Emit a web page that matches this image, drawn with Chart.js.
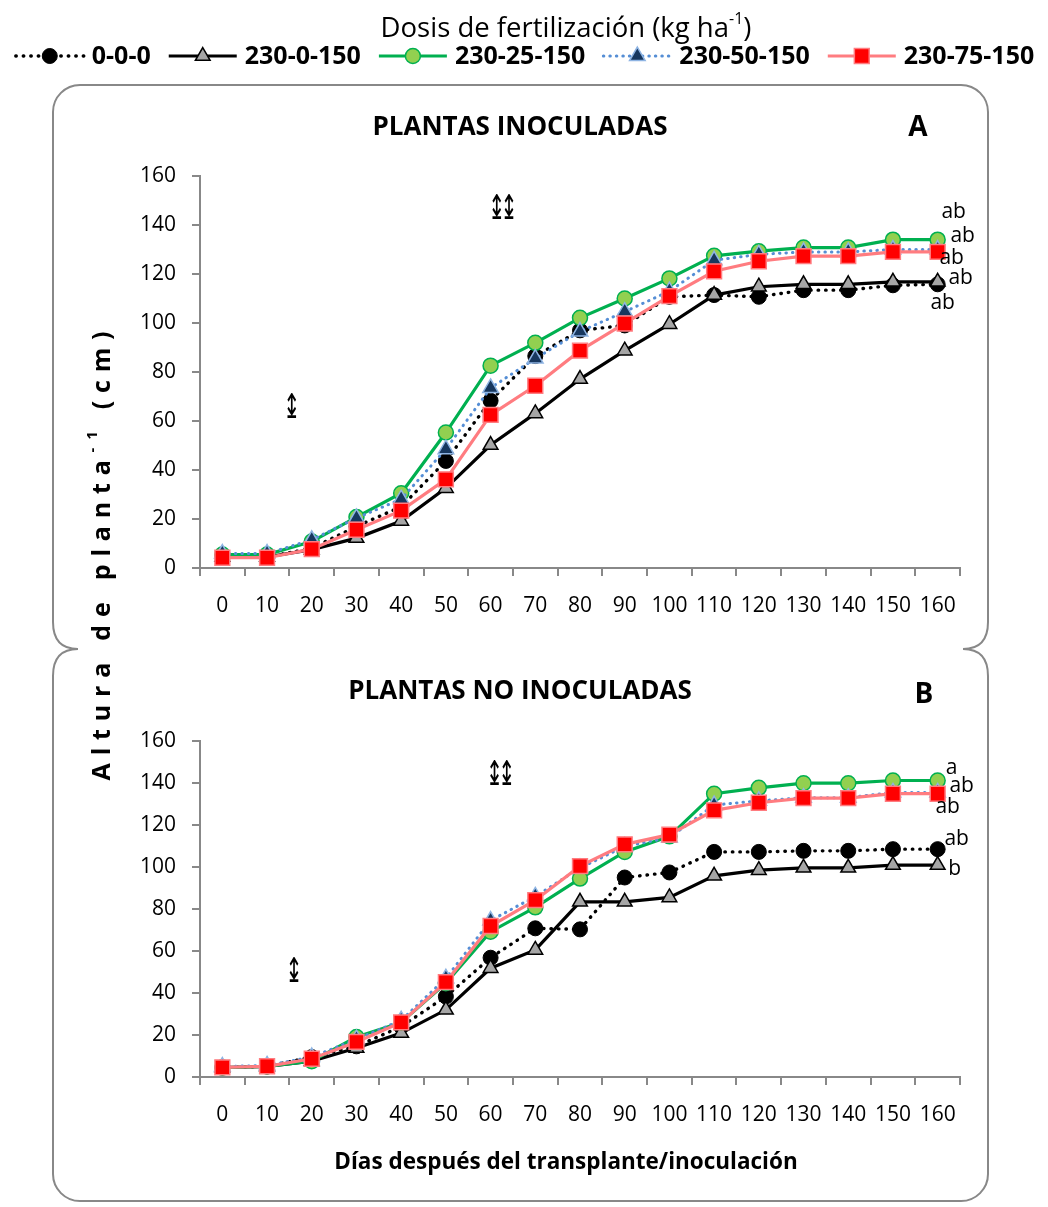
<!DOCTYPE html>
<html>
<head>
<meta charset="utf-8">
<title>Altura de planta</title>
<script src="https://cdn.jsdelivr.net/npm/chart.js@4.4.0/dist/chart.umd.min.js"></script>
<style>
  html, body { margin: 0; padding: 0; background: #ffffff; }
  #wrap { position: relative; width: 1048px; height: 1207px; }
  .layer { position: absolute; left: 0; top: 0; width: 1048px; height: 1207px; }
</style>
</head>
<body>
<div id="wrap">
  <div class="layer"><canvas id="chartA"></canvas></div>
  <div class="layer"><canvas id="chartB"></canvas></div>
</div>
<script>
// ---- data ----
const days = ['0', '10', '20', '30', '40', '50', '60', '70', '80', '90', '100', '110', '120', '130', '140', '150', '160'];
const treatments = ['0-0-0', '230-0-150', '230-25-150', '230-50-150', '230-75-150'];

// A: plantas inoculadas (cm)
const inoc_0_0_0      = [4.5, 4.5, 8.0, 17.0, 25.0, 43.7, 68.3, 86.5, 97.0, 99.0, 110.7, 111.4, 110.7, 113.4, 113.4, 115.4, 115.8];
const inoc_230_0_150  = [4.5, 4.5, 7.5, 12.2, 19.2, 32.6, 50.2, 63.1, 77.1, 88.7, 99.5, 111.4, 114.8, 115.8, 115.8, 116.8, 116.8];
const inoc_230_25_150 = [5.5, 5.5, 10.8, 20.8, 30.5, 55.3, 82.6, 91.9, 102.1, 110.0, 118.2, 127.4, 129.3, 130.8, 130.8, 134.0, 134.0];
const inoc_230_50_150 = [5.9, 5.9, 11.5, 20.4, 28.1, 48.5, 73.5, 85.5, 96.5, 104.6, 113.0, 125.6, 128.0, 129.0, 129.0, 130.0, 130.0];
const inoc_230_75_150 = [4.2, 4.2, 7.7, 15.6, 23.4, 36.2, 62.5, 74.4, 88.7, 99.8, 111.0, 121.1, 125.2, 127.3, 127.3, 129.0, 129.0];

// B: plantas no inoculadas (cm)
const noinoc_0_0_0      = [4.5, 5.0, 9.5, 14.6, 24.0, 38.3, 56.8, 70.8, 70.3, 95.0, 97.4, 107.2, 107.2, 107.7, 107.7, 108.5, 108.5];
const noinoc_230_0_150  = [4.5, 5.0, 7.5, 13.8, 20.9, 32.0, 51.8, 60.5, 83.4, 83.4, 85.5, 95.8, 98.5, 99.6, 99.6, 100.9, 100.9];
const noinoc_230_25_150 = [4.5, 5.0, 7.5, 19.0, 26.0, 44.7, 69.2, 80.8, 94.5, 107.2, 114.6, 134.9, 137.7, 139.9, 139.9, 141.2, 141.2];
const noinoc_230_50_150 = [5.0, 5.5, 9.5, 18.0, 27.0, 47.0, 74.5, 86.0, 99.5, 109.8, 114.0, 129.5, 131.5, 133.0, 133.0, 135.5, 135.5];
const noinoc_230_75_150 = [4.6, 5.1, 8.7, 16.7, 26.0, 45.2, 71.9, 84.2, 100.4, 110.8, 115.4, 127.0, 130.6, 132.8, 132.8, 134.9, 134.9];

// letters of mean separation at the last date, one per treatment
const lettersA = ['ab', 'ab', 'ab', 'ab', 'ab'];
const lettersB = ['ab', 'b', 'a', 'ab', 'ab'];

// y-axis tick values
const yTicks = [0, 20, 40, 60, 80, 100, 120, 140, 160];

// ---- styles ----
const AXIS_GRAY = '#888888';
const FONT = "'Open Sans', 'DejaVu Sans', sans-serif";
Chart.defaults.font.family = FONT;
Chart.defaults.color = '#000000';

const seriesStyle = [
  { borderColor: '#000000', borderWidth: 3.4, borderDash: [0.5, 7], borderCapStyle: 'round',
    pointStyle: 'circle', pointRadius: 7.5, pointBackgroundColor: '#000000', pointBorderColor: '#000000', pointBorderWidth: 1, order: 5 },
  { borderColor: '#000000', borderWidth: 3.2, borderDash: [],
    pointStyle: 'triangle', pointRadius: 8.5, pointBackgroundColor: '#a6a6a6', pointBorderColor: '#000000', pointBorderWidth: 1.5, order: 4 },
  { borderColor: '#00b050', borderWidth: 3.2, borderDash: [],
    pointStyle: 'circle', pointRadius: 7.5, pointBackgroundColor: '#92d050', pointBorderColor: '#00b050', pointBorderWidth: 1.5, order: 3 },
  { borderColor: '#558ed5', borderWidth: 3, borderDash: [0.5, 6], borderCapStyle: 'round',
    pointStyle: 'triangle', pointRadius: 9, pointBackgroundColor: '#17375e', pointBorderColor: '#8eb4e3', pointBorderWidth: 1.5, order: 2 },
  { borderColor: '#ff7c80', borderWidth: 3.2, borderDash: [],
    pointStyle: 'rect', pointRadius: 10.5, pointBackgroundColor: '#ff0000', pointBorderColor: '#ff7c80', pointBorderWidth: 1.5, order: 1 }
];

// offsets (px) of the letter labels from the last point of each series
const letterOffsetsA = [[5, 19], [23, -4], [16, -28], [25, -13], [14, 6]];
const letterOffsetsB = [[19, -10], [17, 4], [14, -12], [24, -6], [10, 13]];

// LSD markers drawn in data space
const lsdMarksA = [{ x: 1.5, y: 65, text: '\u21A8' }, { x: 6.22, y: 146, text: '\u21A8\u21A8' }];
const lsdMarksB = [{ x: 1.55, y: 49.6, text: '\u21A8' }, { x: 6.17, y: 143.2, text: '\u21A8\u21A8' }];

function buildDatasets(seriesList) {
  return seriesList.map((values, i) => Object.assign({
    label: treatments[i],
    data: values,
    tension: 0,
    fill: false,
    pointHoverRadius: seriesStyle[i].pointRadius
  }, seriesStyle[i]));
}

function buildOptions(padTop, padBottom) {
  return {
    responsive: true,
    maintainAspectRatio: false,
    animation: false,
    devicePixelRatio: 1,
    events: [],
    layout: { padding: { left: 0, right: 88, top: padTop, bottom: padBottom } },
    plugins: { legend: { display: false }, tooltip: { enabled: false }, title: { display: false } },
    scales: {
      x: {
        type: 'category',
        offset: true,
        grid: { display: true, offset: true, drawOnChartArea: false, drawTicks: true, tickLength: 8, color: AXIS_GRAY, lineWidth: 2 },
        border: { display: true, color: AXIS_GRAY, width: 2 },
        ticks: { color: '#000000', font: { size: 21 }, padding: 17, maxRotation: 0, autoSkip: false },
        afterFit: (s) => { s.height = 60; }
      },
      y: {
        min: 0,
        max: 160,
        afterBuildTicks: (s) => { s.ticks = yTicks.map(v => ({ value: v })); },
        grid: { display: true, drawOnChartArea: false, drawTicks: true, tickLength: 8, color: AXIS_GRAY, lineWidth: 2 },
        border: { display: true, color: AXIS_GRAY, width: 2 },
        ticks: { color: '#000000', font: { size: 21 }, padding: 16 },
        afterFit: (s) => { s.width = 200; }
      }
    }
  };
}

// letters after the last point, LSD markers and panel headings
function panelAnnotations(letters, offsets, marks, title, tag, titleY, tagPos) {
  return {
    id: 'panelAnnotations',
    afterDatasetsDraw(chart) {
      const ctx = chart.ctx;
      const xs = chart.scales.x, ys = chart.scales.y;
      ctx.save();
      ctx.fillStyle = '#000000';
      ctx.textAlign = 'center';
      ctx.textBaseline = 'middle';
      ctx.font = '21px ' + FONT;
      chart.data.datasets.forEach((ds, i) => {
        const last = ds.data.length - 1;
        const px = xs.getPixelForValue(last);
        const py = ys.getPixelForValue(ds.data[last]);
        ctx.fillText(letters[i], px + offsets[i][0], py + offsets[i][1]);
      });
      // narrow up-down arrows with base
      marks.forEach(m => {
        ctx.save();
        ctx.translate(xs.getPixelForValue(m.x), ys.getPixelForValue(m.y));
        ctx.scale(0.6, 1);
        ctx.font = '34px "DejaVu Sans", sans-serif';
        ctx.letterSpacing = '-8px';
        ctx.fillText(m.text, 0, 0);
        ctx.restore();
      });
      ctx.font = 'bold 26px ' + FONT;
      ctx.fillText(title, 520, titleY);
      ctx.font = 'bold 28px ' + FONT;
      ctx.fillText(tag, tagPos[0], tagPos[1]);
      ctx.restore();
    }
  };
}

// rounded frame around both panels, joined by a brace on each side
const framePlugin = {
  id: 'frame',
  beforeDraw(chart) {
    const ctx = chart.ctx;
    const L = 53, R = 988, T = 85, B = 1201, r = 27, mid = 649, h = 27, d = 25;
    ctx.save();
    ctx.strokeStyle = AXIS_GRAY;
    ctx.lineWidth = 2;
    ctx.beginPath();
    ctx.moveTo(L, T + r);
    ctx.arcTo(L, T, L + r, T, r);
    ctx.lineTo(R - r, T);
    ctx.arcTo(R, T, R, T + r, r);
    ctx.lineTo(R, mid - h);
    ctx.quadraticCurveTo(R, mid, R - d, mid);
    ctx.quadraticCurveTo(R, mid, R, mid + h);
    ctx.lineTo(R, B - r);
    ctx.arcTo(R, B, R - r, B, r);
    ctx.lineTo(L + r, B);
    ctx.arcTo(L, B, L, B - r, r);
    ctx.lineTo(L, mid + h);
    ctx.quadraticCurveTo(L, mid, L + d, mid);
    ctx.quadraticCurveTo(L, mid, L, mid - h);
    ctx.closePath();
    ctx.stroke();
    ctx.restore();
  }
};

// legend with title, line samples and markers, plus the shared y-axis title
const legendPlugin = {
  id: 'topLegend',
  afterDraw(chart) {
    const ctx = chart.ctx;
    const H = Chart.helpers;
    ctx.save();
    ctx.fillStyle = '#000000';
    ctx.textBaseline = 'middle';

    // title with superscript
    const main = 'Dosis de fertilización (kg ha';
    const sup = '-1';
    const close = ')';
    ctx.font = '27.5px ' + FONT;
    const w1 = ctx.measureText(main).width;
    const w3 = ctx.measureText(close).width;
    ctx.font = '16px ' + FONT;
    const w2 = ctx.measureText(sup).width;
    let x = 566 - (w1 + w2 + w3) / 2;
    const ty = 29;
    ctx.textAlign = 'left';
    ctx.font = '27.5px ' + FONT;
    ctx.fillText(main, x, ty);
    ctx.font = '16px ' + FONT;
    ctx.fillText(sup, x + w1, ty - 10);
    ctx.font = '27.5px ' + FONT;
    ctx.fillText(close, x + w1 + w2, ty);

    // entries
    const ly = 56, lineLen = 68, gapText = 8, gapItem = 18;
    ctx.font = 'bold 25px ' + FONT;
    const widths = treatments.map(t => ctx.measureText(t).width);
    const total = widths.reduce((a, b) => a + b, 0) + treatments.length * (lineLen + gapText) + (treatments.length - 1) * gapItem;
    x = 525 - total / 2;
    treatments.forEach((t, i) => {
      const s = seriesStyle[i];
      ctx.save();
      ctx.strokeStyle = s.borderColor;
      ctx.lineWidth = s.borderWidth;
      ctx.setLineDash(s.borderDash);
      ctx.lineCap = s.borderCapStyle || 'butt';
      ctx.beginPath();
      ctx.moveTo(x, ly);
      ctx.lineTo(x + lineLen, ly);
      ctx.stroke();
      ctx.restore();
      ctx.save();
      ctx.fillStyle = s.pointBackgroundColor;
      ctx.strokeStyle = s.pointBorderColor;
      ctx.lineWidth = s.pointBorderWidth;
      H.drawPoint(ctx, { pointStyle: s.pointStyle, radius: s.pointRadius, rotation: 0, borderWidth: s.pointBorderWidth }, x + lineLen / 2, ly);
      ctx.restore();
      ctx.fillStyle = '#000000';
      ctx.font = 'bold 25px ' + FONT;
      ctx.textAlign = 'left';
      ctx.fillText(t, x + lineLen + gapText, ly + 1);
      x += lineLen + gapText + widths[i] + gapItem;
    });

    // shared y-axis title (rotated) with superscript
    ctx.save();
    ctx.translate(103, 552);
    ctx.rotate(-Math.PI / 2);
    ctx.letterSpacing = '7.8px';
    ctx.textAlign = 'left';
    const p1 = 'Altura de planta', p2 = '-1', p3 = ' (cm)';
    ctx.font = 'bold 25px ' + FONT;
    const a1 = ctx.measureText(p1).width, a3 = ctx.measureText(p3).width;
    ctx.font = 'bold 15px ' + FONT;
    const a2 = ctx.measureText(p2).width;
    let sx = -(a1 + a2 + a3) / 2;
    ctx.font = 'bold 25px ' + FONT;
    ctx.fillText(p1, sx, 0);
    ctx.font = 'bold 15px ' + FONT;
    ctx.fillText(p2, sx + a1, -10);
    ctx.font = 'bold 25px ' + FONT;
    ctx.fillText(p3, sx + a1 + a2, 0);
    ctx.restore();

    ctx.restore();
  }
};

// x-axis title under the lower panel
const xTitlePlugin = {
  id: 'xTitle',
  afterDraw(chart) {
    const ctx = chart.ctx;
    ctx.save();
    ctx.fillStyle = '#000000';
    ctx.textAlign = 'center';
    ctx.textBaseline = 'middle';
    ctx.font = 'bold 22.5px ' + FONT;
    ctx.fillText('Días después del transplante/inoculación', 566, 1163);
    ctx.restore();
  }
};

new Chart(document.getElementById('chartA'), {
  type: 'line',
  data: {
    labels: days,
    datasets: buildDatasets([inoc_0_0_0, inoc_230_0_150, inoc_230_25_150, inoc_230_50_150, inoc_230_75_150])
  },
  options: buildOptions(176, 1207 - 568 - 60),
  plugins: [framePlugin, legendPlugin,
    panelAnnotations(lettersA, letterOffsetsA, lsdMarksA, 'PLANTAS INOCULADAS', 'A', 128, [918, 128])]
});

new Chart(document.getElementById('chartB'), {
  type: 'line',
  data: {
    labels: days,
    datasets: buildDatasets([noinoc_0_0_0, noinoc_230_0_150, noinoc_230_25_150, noinoc_230_50_150, noinoc_230_75_150])
  },
  options: buildOptions(741, 1207 - 1077 - 60),
  plugins: [xTitlePlugin,
    panelAnnotations(lettersB, letterOffsetsB, lsdMarksB, 'PLANTAS NO INOCULADAS', 'B', 692, [924, 695])]
});
</script>
</body>
</html>
